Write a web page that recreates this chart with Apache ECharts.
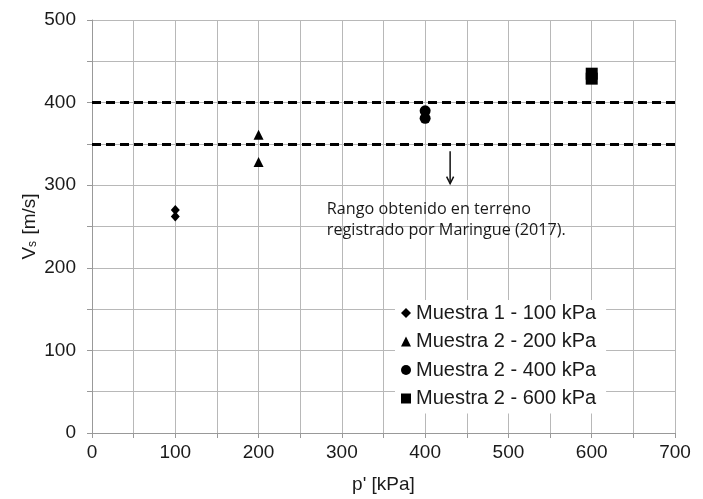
<!DOCTYPE html>
<html><head><meta charset="utf-8">
<script src="https://cdn.jsdelivr.net/npm/echarts@6/dist/echarts.min.js"></script>
<style>html,body{margin:0;padding:0;background:#fff}#c{width:703px;height:499px}</style>
</head><body><div id="c"></div>
<script>
const seriesNames = ['Muestra 1 - 100 kPa','Muestra 2 - 200 kPa','Muestra 2 - 400 kPa','Muestra 2 - 600 kPa'];
const muestra1_100 = [[100, 270], [100, 262]];
const muestra2_200 = [[200, 361], [200, 328]];
const muestra2_400 = [[400, 390], [400, 381]];
const muestra2_600 = [[600, 435], [600, 429]];
const rangeLines = [350, 400];
const arrowData = [[430, 341, 430, 302]];
const noteData = [[282, 283.5]];
const noteText = 'Rango obtenido en terreno\nregistrado por Maringue (2017).';
const xMin = 0, xMax = 700, yMin = 0, yMax = 500, tickStep = 50, labelStep = 100;

const chart = echarts.init(document.getElementById('c'), null, {renderer: 'canvas'});
const axisFont = {fontFamily: 'Liberation Sans, Arial, sans-serif', fontSize: 19, color: '#1a1a1a'};
const gridColor = '#b8b8b8';
const symbols = ['diamond','triangle','circle','rect'];
const sizes = [[9,10],[10,10],[11,11],[12,12]];
const datas = [muestra1_100, muestra2_200, muestra2_400, muestra2_600];

const scatterSeries = datas.map((d, i) => ({
  name: seriesNames[i], type: 'scatter', data: d,
  symbol: symbols[i], symbolSize: sizes[i],
  itemStyle: {color: '#000', opacity: 1}, z: 5
}));
scatterSeries[0].markLine = {
  silent: true, symbol: ['none','none'], label: {show: false},
  lineStyle: {color: '#000', width: 3, type: [9,5], opacity: 1},
  data: rangeLines.map(v => ({yAxis: v}))
};

const option = {
  animation: false,
  backgroundColor: '#fff',
  grid: {left: 92, right: 28, top: 20, bottom: 61, show: false},
  xAxis: {
    type: 'value', min: xMin, max: xMax, interval: tickStep,
    name: "p' [kPa]", nameLocation: 'middle', nameGap: 42, nameMoveOverlap: false,
    nameTextStyle: axisFont,
    axisLine: {show: true, lineStyle: {color: '#999', width: 1}},
    axisTick: {show: true, length: 5, lineStyle: {color: '#999'}},
    axisLabel: Object.assign({margin: 10, formatter: v => v % labelStep === 0 ? String(v) : ''}, axisFont),
    splitLine: {show: true, lineStyle: {color: gridColor, width: 1}}
  },
  yAxis: {
    type: 'value', min: yMin, max: yMax, interval: tickStep,
    name: '{a|V}{b|s}{a| [m/s]}', nameLocation: 'middle', nameGap: 53, nameRotate: 90, nameMoveOverlap: false,
    nameTextStyle: {
      rich: {
        a: {fontFamily: 'Liberation Sans, Arial, sans-serif', fontSize: 19, color: '#1a1a1a', lineHeight: 24, verticalAlign: 'bottom'},
        b: {fontFamily: 'Liberation Sans, Arial, sans-serif', fontSize: 12, color: '#1a1a1a', lineHeight: 12, padding: [8,1,0,0], verticalAlign: 'bottom'}
      }
    },
    axisLine: {show: true, lineStyle: {color: '#999', width: 1}},
    axisTick: {show: true, length: 5, lineStyle: {color: '#999'}},
    axisLabel: Object.assign({margin: 16, formatter: v => v % labelStep === 0 ? String(v) : ''}, axisFont),
    splitLine: {show: true, lineStyle: {color: gridColor, width: 1}}
  },
  legend: {
    data: seriesNames, orient: 'vertical', left: 395, top: 300,
    backgroundColor: '#fff', padding: [3, 10, 5, 6],
    itemWidth: 10, itemHeight: 10, itemGap: 8.5,
    textStyle: {fontFamily: 'Liberation Sans, Arial, sans-serif', fontSize: 20, lineHeight: 20, color: '#1a1a1a', padding: [0,0,0,0]},
    z: 10
  },
  series: scatterSeries.concat([
    {
      type: 'custom', name: 'arrow', silent: true, z: 6,
      data: arrowData,
      renderItem: (params, api) => {
        const p1 = api.coord([api.value(0), api.value(1)]);
        const p2 = api.coord([api.value(2), api.value(3)]);
        return {type: 'group', children: [
          {type: 'line', shape: {x1: p1[0], y1: p1[1], x2: p2[0], y2: p2[1]}, style: {stroke: '#111', lineWidth: 1.5}},
          {type: 'polyline', shape: {points: [[p2[0]-3.5, p2[1]-7], [p2[0], p2[1]], [p2[0]+3.5, p2[1]-7]]}, style: {stroke: '#111', lineWidth: 1.5, fill: null}}
        ]};
      }
    },
    {
      type: 'custom', name: 'note', silent: true, z: 6,
      data: noteData,
      renderItem: (params, api) => {
        const p = api.coord([api.value(0), api.value(1)]);
        return {type: 'text', x: p[0], y: p[1], style: {
          text: noteText, fill: '#1a1a1a', fontSize: 16.2, lineHeight: 21,
          fontFamily: 'Open Sans, Noto Sans, sans-serif', align: 'left', verticalAlign: 'top'
        }};
      }
    }
  ])
};
chart.setOption(option);
</script>
</body></html>
